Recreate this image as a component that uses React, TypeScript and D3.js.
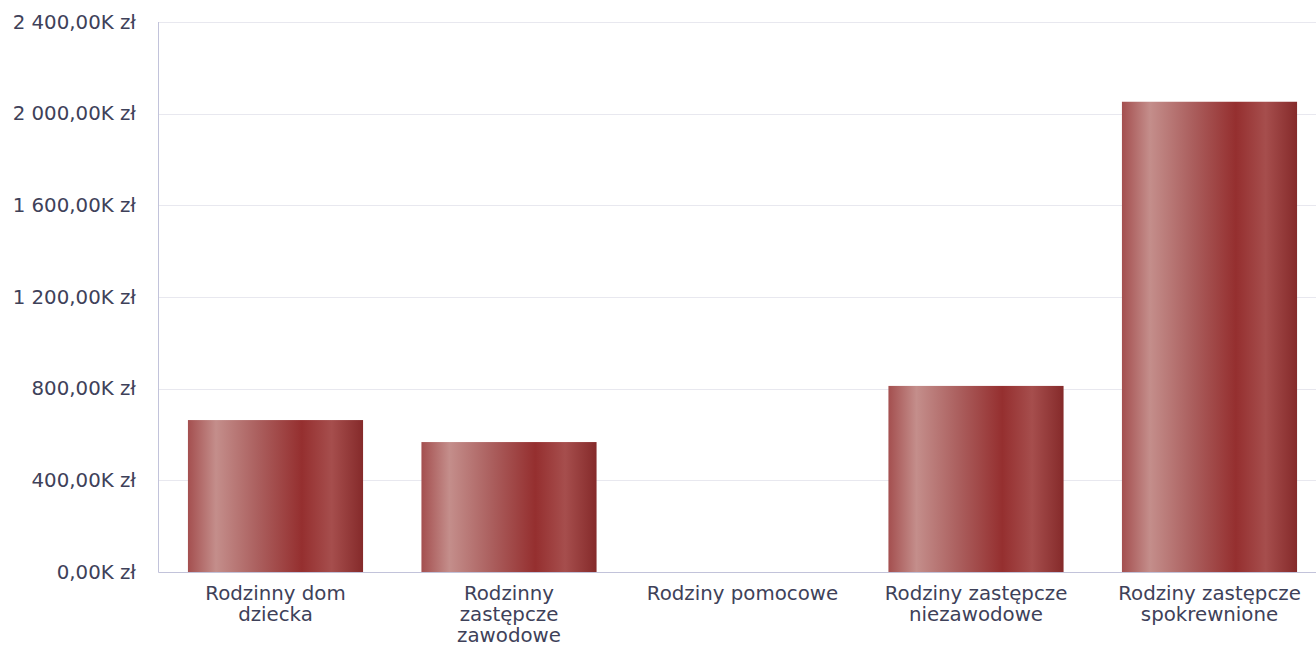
import React from "react";
import * as d3 from "d3";

const categories = [
  "Rodzinny dom dziecka",
  "Rodzinny zastępcze zawodowe",
  "Rodziny pomocowe",
  "Rodziny zastępcze niezawodowe",
  "Rodziny zastępcze spokrewnione",
];
const categoryLines = [
  ["Rodzinny dom", "dziecka"],
  ["Rodzinny", "zastępcze", "zawodowe"],
  ["Rodziny pomocowe"],
  ["Rodziny zastępcze", "niezawodowe"],
  ["Rodziny zastępcze", "spokrewnione"],
];
const values = [663000, 567000, 0, 812000, 2052000];
const yTicks = [0, 400000, 800000, 1200000, 1600000, 2000000, 2400000];

const W = 1316;
const H = 647;
const FONT = "'DejaVu Sans', sans-serif";
const TEXT = "#3e4159";

function fmt(v: number) {
  const k = v / 1000;
  const [intPart, dec] = k.toFixed(2).split(".");
  const withSpace = intPart.replace(/\B(?=(\d{3})+(?!\d))/g, " ");
  return `${withSpace},${dec}K zł`;
}

export default function App() {
  const x = d3
    .scaleBand<string>()
    .domain(categories)
    .range([158.75, 1326.25])
    .paddingInner(0.25)
    .paddingOuter(0.125);
  const y = d3.scaleLinear().domain([0, 2400000]).range([572, 22]);
  const axisX = 158.5;

  return (
    <svg
      width={W}
      height={H}
      style={{ position: "absolute", left: 0, top: 0, background: "#fff" }}
      fontFamily={FONT}
    >
      <defs>
        <linearGradient id="barGrad" x1="0" y1="0" x2="1" y2="0">
          <stop offset="0" stopColor="#a44f4f" />
          <stop offset="0.16" stopColor="#c48e8b" />
          <stop offset="0.4" stopColor="#ab5f5e" />
          <stop offset="0.65" stopColor="#952f2f" />
          <stop offset="0.82" stopColor="#a64e4d" />
          <stop offset="1" stopColor="#852a2a" />
        </linearGradient>
      </defs>
      {yTicks.map((t) => (
        <g key={t}>
          {t > 0 && (
            <line
              x1={axisX}
              x2={W}
              y1={Math.round(y(t)) + 0.5}
              y2={Math.round(y(t)) + 0.5}
              stroke="#e8e8ef"
              strokeWidth={1}
            />
          )}
          <text
            x={136}
            y={y(t)}
            textAnchor="end"
            dominantBaseline="central"
            fontSize={19.8}
            fill={TEXT}
          >
            {fmt(t)}
          </text>
        </g>
      ))}
      {categories.map((c, i) => (
        <rect
          key={c}
          x={x(c)}
          y={y(values[i])}
          width={x.bandwidth()}
          height={y(0) - y(values[i])}
          fill="url(#barGrad)"
        />
      ))}
      <line x1={axisX} x2={axisX} y1={22} y2={572.5} stroke="#c2c3da" strokeWidth={1} />
      <line x1={axisX} x2={W} y1={572.5} y2={572.5} stroke="#c2c3da" strokeWidth={1} />
      {categories.map((c, i) => (
        <text
          key={c}
          x={(x(c) as number) + x.bandwidth() / 2}
          y={600}
          textAnchor="middle"
          fontSize={19.8}
          fill={TEXT}
        >
          {categoryLines[i].map((l, j) => (
            <tspan key={j} x={(x(c) as number) + x.bandwidth() / 2} dy={j === 0 ? 0 : 21}>
              {l}
            </tspan>
          ))}
        </text>
      ))}
    </svg>
  );
}
